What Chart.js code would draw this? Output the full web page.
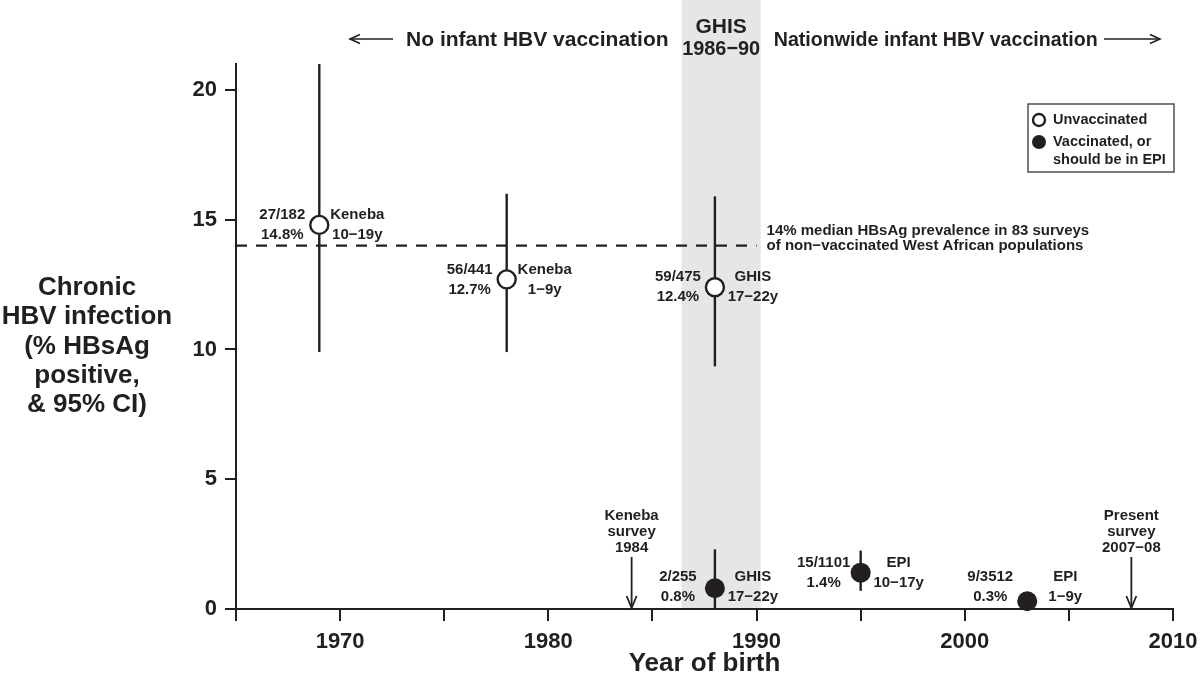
<!DOCTYPE html>
<html>
<head>
<meta charset="utf-8">
<script src="https://cdn.jsdelivr.net/npm/chart.js@4.4.1/dist/chart.umd.min.js"></script>
<style>
  html, body { margin: 0; padding: 0; background: #fff; }
  #c { display: block; }
</style>
</head>
<body>
<canvas id="c" width="1200" height="688"></canvas>
<script>
// data
var unvacYears = [1969, 1978, 1988];
var unvacPrev = [14.8, 12.7, 12.4];
var unvacLow = [9.9, 9.9, 9.35];
var unvacHigh = [21.0, 16.0, 15.9];
var unvacCounts = ["27/182", "56/441", "59/475"];
var unvacGroups = [["Keneba", "10\u221219y"], ["Keneba", "1\u22129y"], ["GHIS", "17\u221222y"]];

var vacYears = [1988, 1995, 2003];
var vacPrev = [0.8, 1.4, 0.3];
var vacLow = [0.0, 0.7, 0.15];
var vacHigh = [2.3, 2.25, 0.5];
var vacCounts = ["2/255", "15/1101", "9/3512"];
var vacGroups = [["GHIS", "17\u221222y"], ["EPI", "10\u221217y"], ["EPI", "1\u22129y"]];

var ghisSpan = [1986.4, 1990.2];
var medianPrev = 14;
var medianSpan = [1965, 1990];
var medianText = ["14% median HBsAg prevalence in 83 surveys", "of non\u2212vaccinated West African populations"];
var surveyYears = [1984, 2008];
var surveyText = [["Keneba", "survey", "1984"], ["Present", "survey", "2007\u221208"]];

var xTicks = [1965, 1970, 1975, 1980, 1985, 1990, 1995, 2000, 2005, 2010];
var yTicks = [0, 5, 10, 15, 20];

var INK = "#231f20";
var FONT = "'Liberation Sans', Arial, Helvetica, sans-serif";

function pts(xs, ys) {
    return xs.map(function (v, i) { return { x: v, y: ys[i] }; });
}

function bold(px) { return "bold " + px + "px " + FONT; }

function arrowHead(ctx, x, y, dx, dy, len, half) {
    // open V head pointing along (dx,dy) with tip at (x,y)
    var nx = -dy, ny = dx;
    ctx.beginPath();
    ctx.moveTo(x - dx * len + nx * half, y - dy * len + ny * half);
    ctx.lineTo(x, y);
    ctx.lineTo(x - dx * len - nx * half, y - dy * len - ny * half);
    ctx.stroke();
}

var annot = {
    id: "annot",
    beforeDraw: function (chart) {
        var ctx = chart.ctx, x = chart.scales.x, area = chart.chartArea;
        ctx.save();
        ctx.fillStyle = "#fff";
        ctx.fillRect(0, 0, chart.width, chart.height);
        var a = x.getPixelForValue(ghisSpan[0]), b = x.getPixelForValue(ghisSpan[1]);
        ctx.fillStyle = "#e6e6e8";
        ctx.fillRect(a, 0, b - a, area.bottom);
        ctx.restore();
    },
    beforeDatasetsDraw: function (chart) {
        var ctx = chart.ctx, x = chart.scales.x, y = chart.scales.y;
        ctx.save();
        ctx.strokeStyle = INK;

        // dashed median line
        ctx.lineWidth = 2.2;
        ctx.setLineDash([11, 9]);
        ctx.beginPath();
        ctx.moveTo(x.getPixelForValue(medianSpan[0]), y.getPixelForValue(medianPrev));
        ctx.lineTo(x.getPixelForValue(medianSpan[1]), y.getPixelForValue(medianPrev));
        ctx.stroke();
        ctx.setLineDash([]);

        // confidence intervals
        ctx.lineWidth = 2.4;
        function bars(xs, lo, hi) {
            xs.forEach(function (v, i) {
                var px = x.getPixelForValue(v);
                ctx.beginPath();
                ctx.moveTo(px, y.getPixelForValue(lo[i]));
                ctx.lineTo(px, y.getPixelForValue(hi[i]));
                ctx.stroke();
            });
        }
        bars(unvacYears, unvacLow, unvacHigh);
        bars(vacYears, vacLow, vacHigh);

        // survey arrows
        ctx.lineWidth = 1.8;
        ctx.fillStyle = INK;
        ctx.font = bold(15);
        ctx.textAlign = "center";
        ctx.textBaseline = "middle";
        var y0 = y.getPixelForValue(0);
        surveyYears.forEach(function (v, i) {
            var px = x.getPixelForValue(v);
            ctx.beginPath();
            ctx.moveTo(px, y0 - 52);
            ctx.lineTo(px, y0 - 1);
            ctx.stroke();
            arrowHead(ctx, px, y0 - 1, 0, 1, 12, 5);
            surveyText[i].forEach(function (t, k) {
                ctx.fillText(t, px, y0 - 93 + k * 16);
            });
        });
        ctx.restore();
    },
    afterDraw: function (chart) {
        var ctx = chart.ctx, x = chart.scales.x, y = chart.scales.y, area = chart.chartArea;
        ctx.save();
        ctx.fillStyle = INK;
        ctx.strokeStyle = INK;
        ctx.textBaseline = "middle";

        // point labels
        ctx.font = bold(15);
        function labels(xs, vals, counts, groups) {
            xs.forEach(function (v, i) {
                var px = x.getPixelForValue(v);
                var py = y.getPixelForValue(Math.max(vals[i], 0.86));
                var pct = vals[i].toFixed(1) + "%";
                ctx.textAlign = "center";
                ctx.fillText(counts[i], px - 37, py - 10);
                ctx.fillText(pct, px - 37, py + 10);
                ctx.fillText(groups[i][0], px + 38, py - 10);
                ctx.fillText(groups[i][1], px + 38, py + 10);
            });
        }
        labels(unvacYears, unvacPrev, unvacCounts, unvacGroups);
        labels(vacYears, vacPrev, vacCounts, vacGroups);

        // median text
        ctx.font = bold(15);
        ctx.textAlign = "left";
        var my = y.getPixelForValue(medianPrev);
        var mx = x.getPixelForValue(medianSpan[1]) + 10;
        ctx.fillText(medianText[0], mx, my - 15);
        ctx.fillText(medianText[1], mx, my);

        // top captions
        var a = x.getPixelForValue(ghisSpan[0]), b = x.getPixelForValue(ghisSpan[1]);
        ctx.font = bold(21);
        ctx.textAlign = "center";
        ctx.fillText("GHIS", (a + b) / 2, 27, 52);
        ctx.fillText("1986\u221290", (a + b) / 2, 49, 78);
        ctx.textAlign = "right";
        ctx.fillText("No infant HBV vaccination", a - 13, 40, 265);
        ctx.textAlign = "left";
        ctx.fillText("Nationwide infant HBV vaccination", b + 13, 40, 324);
        ctx.lineWidth = 1.6;
        ctx.beginPath(); ctx.moveTo(350, 39); ctx.lineTo(393, 39); ctx.stroke();
        arrowHead(ctx, 350, 39, -1, 0, 10, 4.5);
        ctx.beginPath(); ctx.moveTo(1104, 39); ctx.lineTo(1160, 39); ctx.stroke();
        arrowHead(ctx, 1160, 39, 1, 0, 10, 4.5);

        // legend
        var lx = area.right - 145, ly = area.top + 40;
        ctx.lineWidth = 1.4;
        ctx.strokeStyle = "#444";
        ctx.strokeRect(lx, ly, 146, 68);
        ctx.strokeStyle = INK;
        ctx.lineWidth = 2.4;
        ctx.beginPath(); ctx.arc(lx + 11, ly + 16, 6, 0, Math.PI * 2); ctx.stroke();
        ctx.beginPath(); ctx.arc(lx + 11, ly + 38, 7, 0, Math.PI * 2); ctx.fill();
        ctx.font = bold(14.5);
        ctx.textAlign = "left";
        ctx.fillText(chart.data.datasets[0].label, lx + 25, ly + 16);
        ctx.fillText("Vaccinated, or", lx + 25, ly + 38);
        ctx.fillText("should be in EPI", lx + 25, ly + 56);

        // axis titles
        ctx.font = bold(26);
        ctx.textAlign = "center";
        ["Chronic", "HBV infection", "(% HBsAg", "positive,", "& 95% CI)"].forEach(function (t, k) {
            ctx.fillText(t, 87, 288 + k * 29.3);
        });
        ctx.fillText("Year of birth", (area.left + area.right) / 2, 664);
        ctx.restore();
    }
};

new Chart(document.getElementById("c"), {
    type: "scatter",
    data: {
        datasets: [{
            label: "Unvaccinated",
            data: pts(unvacYears, unvacPrev),
            pointStyle: "circle",
            pointRadius: 9,
            pointHoverRadius: 9,
            pointBorderWidth: 2.4,
            pointBorderColor: INK,
            pointBackgroundColor: "#fff",
            clip: false
        }, {
            label: "Vaccinated, or should be in EPI",
            data: pts(vacYears, vacPrev),
            pointStyle: "circle",
            pointRadius: 10,
            pointHoverRadius: 10,
            pointBorderWidth: 0,
            pointBackgroundColor: INK,
            clip: false
        }]
    },
    options: {
        responsive: false,
        animation: false,
        devicePixelRatio: 1,
        layout: { padding: { left: 0, top: 64, right: 27, bottom: 0 } },
        plugins: { legend: { display: false }, tooltip: { enabled: false } },
        scales: {
            x: {
                type: "linear",
                min: 1965,
                max: 2010,
                afterBuildTicks: function (s) { s.ticks = xTicks.map(function (v) { return { value: v }; }); },
                afterFit: function (s) { s.height = 79; s.paddingLeft = 0; s.paddingRight = 0; },
                ticks: {
                    color: INK,
                    font: { family: FONT, size: 22, weight: "bold" },
                    padding: 8,
                    maxRotation: 0,
                    autoSkip: false,
                    callback: function (v) { return v % 10 === 0 ? String(v) : ""; }
                },
                grid: { drawOnChartArea: false, drawTicks: true, tickLength: 12, color: INK, lineWidth: 2 },
                border: { display: true, color: INK, width: 2 }
            },
            y: {
                type: "linear",
                min: 0,
                max: 21,
                afterBuildTicks: function (s) { s.ticks = yTicks.map(function (v) { return { value: v }; }); },
                afterFit: function (s) { s.width = 236; s.paddingTop = 0; s.paddingBottom = 0; },
                ticks: {
                    color: INK,
                    font: { family: FONT, size: 22, weight: "bold" },
                    padding: 8,
                    callback: function (v) { return String(v); }
                },
                grid: { drawOnChartArea: false, drawTicks: true, tickLength: 11, color: INK, lineWidth: 2 },
                border: { display: true, color: INK, width: 2 }
            }
        }
    },
    plugins: [annot]
});
</script>
</body>
</html>
